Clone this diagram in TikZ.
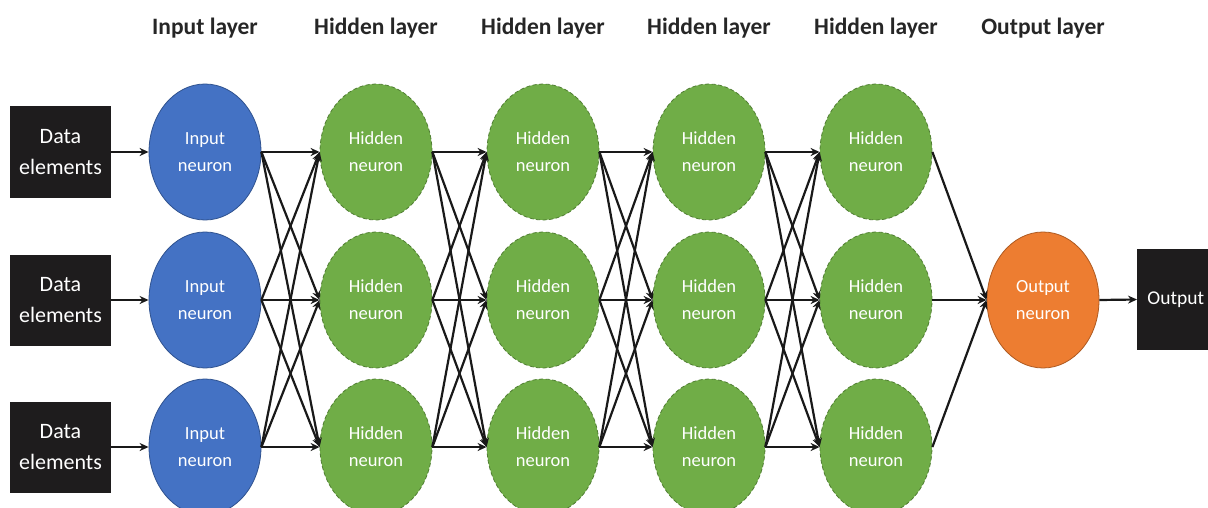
\documentclass[tikz,border=0pt]{standalone}
\usepackage{fontspec}
\setmainfont{Carlito}
\usetikzlibrary{arrows.meta,shapes.geometric}
\definecolor{nblue}{HTML}{4472C4}
\definecolor{nbluedark}{HTML}{2F528F}
\definecolor{ngreen}{HTML}{70AD47}
\definecolor{ngreendark}{HTML}{507E32}
\definecolor{norange}{HTML}{ED7D31}
\definecolor{norangedark}{HTML}{AE5A21}
\definecolor{boxblack}{HTML}{1E1C1D}
\tikzset{
  neuron/.style={ellipse, minimum width=112pt, minimum height=136pt, inner sep=0pt,
    text=white, align=center, font=\fontsize{18.5}{27}\selectfont, line width=0.8pt},
  innode/.style={neuron, fill=nblue, draw=nbluedark},
  hidnode/.style={neuron, fill=ngreen, draw=ngreendark, dash pattern=on 4pt off 2.5pt},
  outnode/.style={neuron, fill=norange, draw=norangedark},
  databox/.style={rectangle, fill=boxblack, text=white, align=center, inner sep=0pt,
    minimum width=101pt, minimum height=91pt, font=\fontsize{22}{31}\selectfont},
  header/.style={font=\fontsize{23.5}{28}\selectfont\bfseries, text=black!85},
  conn/.style={line width=2.2pt, black!90, -{Stealth[length=9pt,width=8pt]}},
}
\begin{document}
\begin{tikzpicture}[x=1pt,y=-1pt]
\useasboundingbox (0,0) rectangle (1208,508);
\clip (0,0) rectangle (1208,508);
\fill[white] (0,0) rectangle (1208,508);
% headers
\node[header] (h0) at (205,28) {Input layer};
\node[header] (h1) at (376,28) {Hidden layer};
\node[header] (h2) at (543,28) {Hidden layer};
\node[header] (h3) at (709,28) {Hidden layer};
\node[header] (h4) at (876,28) {Hidden layer};
\node[header] (h5) at (1043,28) {Output layer};
% data boxes and input neurons
\foreach \r/\y in {1/152,2/300,3/447}{
  \node[databox] (d\r) at (60.5,\y) {Data\\elements};
  \node[innode] (i\r) at (205,\y) {Input\\neuron};
}
% hidden neurons
\foreach \c/\x in {1/376,2/543,3/709,4/876}{
  \foreach \r/\y in {1/152,2/300,3/447}{
    \node[hidnode] (n\c\r) at (\x,\y) {Hidden\\neuron};
  }
}
% output neuron and box
\node[outnode] (o) at (1043,300) {Output\\neuron};
\node[databox, minimum width=80pt, minimum height=101pt, anchor=west,
  font=\fontsize{19.5}{24}\selectfont] (ob) at (1137,299.5) {\hspace*{-3pt}Output};
% connections
\foreach \r in {1,2,3}{
  \draw[conn] (d\r.east) -- (i\r.west);
  \foreach \s in {1,2,3}{
    \draw[conn] (i\r.east) -- (n1\s.west);
  }
  \draw[conn] (n4\r.east) -- (o.west);
}
\foreach \c/\nc in {1/2,2/3,3/4}{
  \foreach \r in {1,2,3}{
    \foreach \s in {1,2,3}{
      \draw[conn] (n\c\r.east) -- (n\nc\s.west);
    }
  }
}
\draw[conn] (o.east) -- (ob.west);
\end{tikzpicture}
\end{document}
